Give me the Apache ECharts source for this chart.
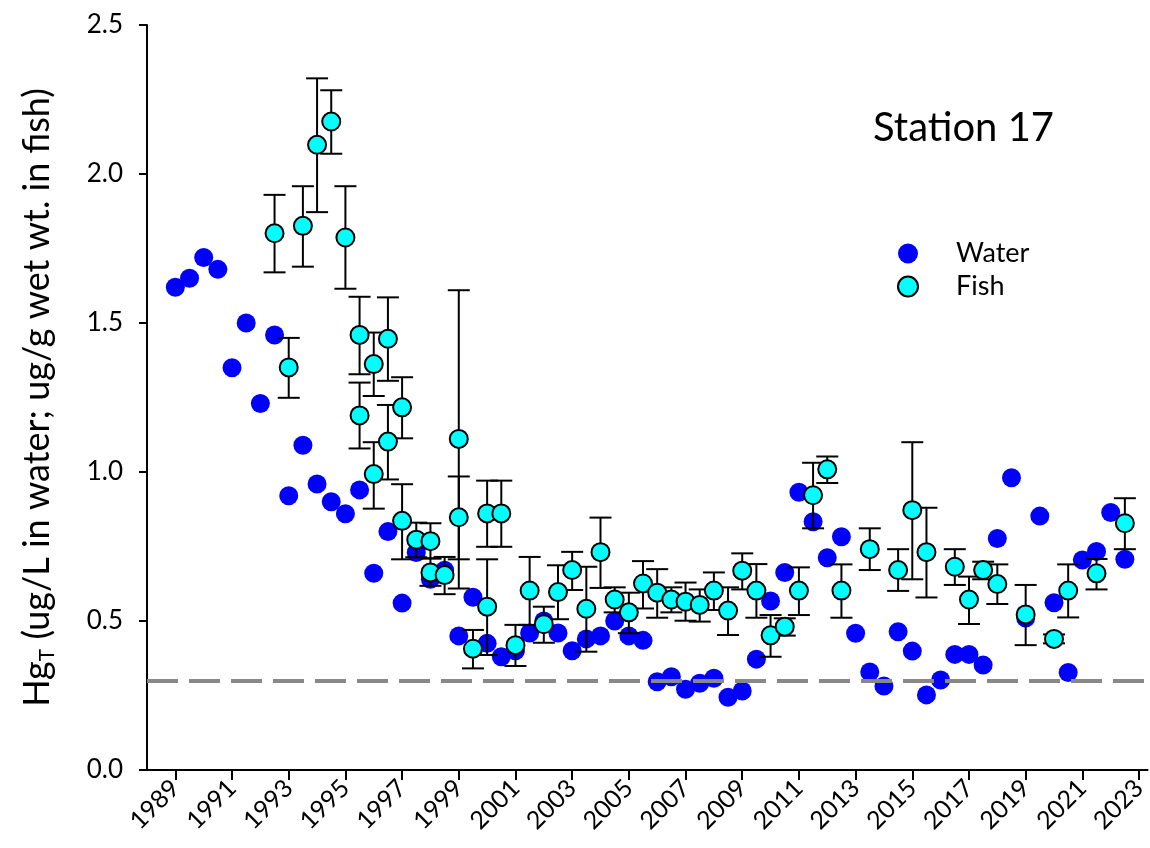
<!DOCTYPE html>
<html><head><meta charset="utf-8">
<script src="https://cdn.jsdelivr.net/npm/echarts@6/dist/echarts.min.js"></script>
<style>html,body{margin:0;padding:0;background:#fff}#c{width:1150px;height:848px}</style>
</head><body><div id="c"></div>
<script>
// ---- data ----
const waterYears = [1989,1989.5,1990,1990.5,1991,1991.5,1992,1992.5,1993,1993.5,1994,1994.5,1995,1995.5,1996,1996.5,1997,1997.5,1998,1998.5,1999,1999.5,2000,2000.5,2001,2001.5,2002,2002.5,2003,2003.5,2004,2004.5,2005,2005.5,2006,2006.5,2007,2007.5,2008,2008.5,2009,2009.5,2010,2010.5,2011,2011.5,2012,2012.5,2013,2013.5,2014,2014.5,2015,2015.5,2016,2016.5,2017,2017.5,2018,2018.5,2019,2019.5,2020,2020.5,2021,2021.5,2022,2022.5];
const waterValues = [1.62,1.65,1.72,1.68,1.35,1.50,1.23,1.46,0.92,1.09,0.96,0.90,0.86,0.94,0.66,0.80,0.56,0.73,0.64,0.67,0.45,0.58,0.425,0.38,0.40,0.46,0.50,0.46,0.40,0.44,0.45,0.50,0.45,0.435,0.296,0.313,0.271,0.291,0.308,0.244,0.265,0.372,0.567,0.663,0.932,0.833,0.712,0.783,0.459,0.329,0.282,0.464,0.399,0.252,0.302,0.388,0.388,0.352,0.777,0.981,0.51,0.852,0.561,0.327,0.705,0.733,0.864,0.707];

const fishYears = [1992.5,1993,1993.5,1994,1994.5,1995,1995.5,1995.5,1996,1996,1996.5,1996.5,1997,1997,1997.5,1998,1998,1998.5,1999,1999,1999.5,2000,2000,2000.5,2001,2001.5,2002,2002.5,2003,2003.5,2004,2004.5,2005,2005.5,2006,2006.5,2007,2007.5,2008,2008.5,2009,2009.5,2010,2010.5,2011,2011.5,2012,2012.5,2013.5,2014.5,2015,2015.5,2016.5,2017,2017.5,2018,2019,2020,2020.5,2021.5,2022.5];
const fishValues = [1.801,1.351,1.826,2.098,2.176,1.787,1.460,1.190,1.362,0.993,1.447,1.102,1.217,0.836,0.773,0.768,0.663,0.654,1.111,0.848,0.407,0.861,0.548,0.861,0.419,0.602,0.489,0.597,0.671,0.541,0.731,0.572,0.529,0.626,0.595,0.572,0.565,0.554,0.602,0.535,0.669,0.602,0.452,0.481,0.602,0.922,1.009,0.602,0.741,0.671,0.872,0.731,0.682,0.572,0.671,0.624,0.522,0.440,0.602,0.660,0.828];
const fishLow = [1.670,1.249,1.689,1.872,2.068,1.615,1.328,1.079,1.255,0.877,1.306,0.975,1.113,0.707,0.714,0.710,0.618,0.590,0.707,0.609,0.341,0.749,0.386,0.749,0.349,0.487,0.427,0.506,0.604,0.397,0.611,0.529,0.459,0.542,0.511,0.529,0.501,0.498,0.537,0.453,0.606,0.511,0.380,0.451,0.520,0.811,0.963,0.511,0.671,0.601,0.640,0.579,0.621,0.490,0.640,0.557,0.419,0.425,0.512,0.606,0.741];
const fishHigh = [1.930,1.450,1.959,2.321,2.281,1.959,1.588,1.300,1.468,1.100,1.586,1.225,1.318,0.959,0.830,0.828,0.710,0.715,1.610,0.985,0.470,0.971,0.707,0.971,0.487,0.715,0.548,0.687,0.732,0.682,0.847,0.613,0.595,0.701,0.674,0.613,0.629,0.606,0.663,0.613,0.727,0.691,0.520,0.509,0.680,1.031,1.052,0.690,0.811,0.741,1.100,0.880,0.741,0.649,0.699,0.690,0.621,0.455,0.690,0.708,0.912];

const yearTicks = [1989,1991,1993,1995,1997,1999,2001,2003,2005,2007,2009,2011,2013,2015,2017,2019,2021,2023];
const guideLevel = 0.3;
const stationName = 'Station 17';

// ---- chart ----
const FONT = 'Lato, "Open Sans", sans-serif';
const waterData = waterYears.map((y, i) => [y, waterValues[i]]);
const fishData = fishYears.map((y, i) => [y, fishValues[i]]);
const errData = fishYears.map((y, i) => [y, fishLow[i], fishHigh[i]]);

const chart = echarts.init(document.getElementById('c'), null, {renderer: 'canvas'});
chart.setOption({
  animation: false,
  backgroundColor: '#fff',
  title: {
    text: stationName, left: 868, top: 103,
    textStyle: {fontFamily: FONT, fontSize: 40, fontWeight: 'normal', color: '#000'}
  },
  legend: {
    orient: 'vertical', left: 892, top: 235,
    itemWidth: 20, itemHeight: 20, itemGap: 6,
    data: ['Water', 'Fish'],
    textStyle: {fontFamily: FONT, fontSize: 27, color: '#000', lineHeight: 26, padding: [0, 0, 0, 33]}
  },
  grid: {left: 147, right: 1, top: 25, bottom: 78},
  xAxis: {
    type: 'value', min: 1988, max: 2023.3,
    splitLine: {show: false},
    axisLine: {onZero: false, lineStyle: {color: '#000', width: 2}},
    axisTick: {customValues: yearTicks, length: 10, lineStyle: {color: '#000', width: 2}},
    axisLabel: {customValues: yearTicks, rotate: 45, margin: 14, fontSize: 25, color: '#000', fontFamily: FONT,
      formatter: v => String(Math.round(v))}
  },
  yAxis: {
    type: 'value', min: 0, max: 2.5, interval: 0.5,
    splitLine: {show: false},
    axisLine: {show: true, lineStyle: {color: '#000', width: 2}},
    axisTick: {show: true, length: 8, lineStyle: {color: '#000', width: 2}},
    axisLabel: {fontSize: 26, color: '#000', margin: 24, fontFamily: FONT, formatter: v => v.toFixed(1)},
    name: '{m|Hg}{s|T}{m| (ug/L in water; ug/g wet wt. in fish)}',
    nameLocation: 'middle', nameRotate: 90, nameGap: 89,
    nameTextStyle: {
      fontFamily: FONT, color: '#000',
      rich: {
        m: {fontSize: 36, fontFamily: FONT, color: '#000', lineHeight: 42},
        s: {fontSize: 21, fontFamily: FONT, color: '#000', lineHeight: 20, verticalAlign: 'bottom'}
      }
    }
  },
  series: [
    {
      name: 'Water', type: 'scatter', data: waterData, z: 2,
      symbol: 'circle', symbolSize: 19,
      itemStyle: {color: '#0000ff', opacity: 1},
      markLine: {
        silent: true, symbol: 'none', label: {show: false},
        lineStyle: {color: '#888888', width: 4, type: [31, 11]},
        data: [{yAxis: guideLevel}]
      }
    },
    {
      name: 'FishErr', type: 'custom', data: errData, z: 3,
      encode: {x: 0, y: [1, 2]},
      renderItem: function (params, api) {
        const x = api.value(0);
        const lo = api.coord([x, api.value(1)]);
        const hi = api.coord([x, api.value(2)]);
        const hw = 11;
        const st = {stroke: '#000', lineWidth: 2};
        return {type: 'group', children: [
          {type: 'line', shape: {x1: lo[0], y1: lo[1], x2: hi[0], y2: hi[1]}, style: st},
          {type: 'line', shape: {x1: hi[0] - hw, y1: hi[1], x2: hi[0] + hw, y2: hi[1]}, style: st},
          {type: 'line', shape: {x1: lo[0] - hw, y1: lo[1], x2: lo[0] + hw, y2: lo[1]}, style: st}
        ]};
      }
    },
    {
      name: 'Fish', type: 'scatter', data: fishData, z: 4,
      symbol: 'circle', symbolSize: 18,
      itemStyle: {color: '#00ffff', borderColor: '#000', borderWidth: 2, opacity: 1}
    }
  ]
});
</script>
</body></html>
